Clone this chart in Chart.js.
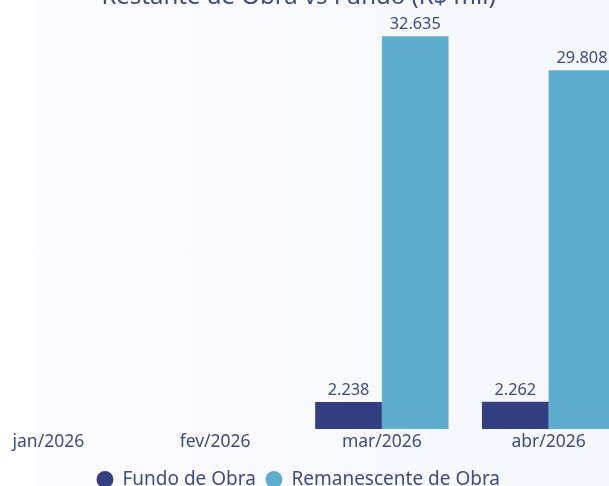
<!DOCTYPE html>
<html>
<head>
<meta charset="utf-8">
<script src="https://cdn.jsdelivr.net/npm/chart.js@4"></script>
<style>
  html, body { margin:0; padding:0; width:609px; height:486px; overflow:hidden;
    background: linear-gradient(to right, #ffffff 0px, #ffffff 28px, #fcfcff 40px, #f5f7fd 609px); }
  #c { position:absolute; left:-35px; top:-17px; }
</style>
</head>
<body>
<canvas id="c" width="667" height="516"></canvas>
<script>
const categories = ['jan/2026', 'fev/2026', 'mar/2026', 'abr/2026'];
const fundoDeObra = [null, null, 2238, 2262];
const remanescenteDeObra = [null, null, 32635, 29808];
const chartTitle = 'Restante de Obra vs Fundo (R$ mil)';

const FONT = "'Noto Sans', 'Open Sans', sans-serif";
const TEXT = '#3f4b84';

function fmt(v) {
  return String(Math.round(v)).replace(/\B(?=(\d{3})+(?!\d))/g, '.');
}

const valueLabels = {
  id: 'valueLabels',
  afterDatasetsDraw(chart) {
    const ctx = chart.ctx;
    ctx.save();
    ctx.font = '16.3px ' + FONT;
    ctx.fillStyle = TEXT;
    ctx.textAlign = 'center';
    ctx.textBaseline = 'alphabetic';
    chart.data.datasets.forEach((ds, i) => {
      const meta = chart.getDatasetMeta(i);
      meta.data.forEach((bar, j) => {
        const v = ds.data[j];
        if (v == null || v === 0) return;
        ctx.fillText(fmt(v), bar.x, bar.y - 7);
      });
    });
    ctx.restore();
  }
};

new Chart(document.getElementById('c'), {
  type: 'bar',
  data: {
    labels: categories,
    datasets: [
      { label: 'Fundo de Obra', data: fundoDeObra, backgroundColor: '#343f82', borderWidth: 0 },
      { label: 'Remanescente de Obra', data: remanescenteDeObra, backgroundColor: '#5eadcf', borderWidth: 0 }
    ]
  },
  options: {
    responsive: false,
    devicePixelRatio: 1,
    animation: false,
    layout: { padding: 0 },
    datasets: { bar: { categoryPercentage: 0.8, barPercentage: 1.0 } },
    scales: {
      x: {
        grid: { display: false, drawTicks: false },
        border: { display: false },
        ticks: { color: TEXT, font: { family: FONT, size: 17.5 }, padding: 3 },
        afterFit(s) { s.height += 4; }
      },
      y: {
        display: false,
        min: 0,
        max: 35000
      }
    },
    plugins: {
      title: {
        display: true,
        text: chartTitle,
        color: TEXT,
        font: { family: FONT, size: 24, weight: 'normal' },
        padding: { top: 0, bottom: -4 }
      },
      legend: {
        position: 'bottom',
        labels: {
          color: TEXT,
          font: { family: FONT, size: 19 },
          usePointStyle: true,
          pointStyle: 'circle',
          boxHeight: 12,
          boxWidth: 16,
          padding: 10
        }
      },
      tooltip: { enabled: false }
    }
  },
  plugins: [valueLabels]
});
</script>
</body>
</html>
